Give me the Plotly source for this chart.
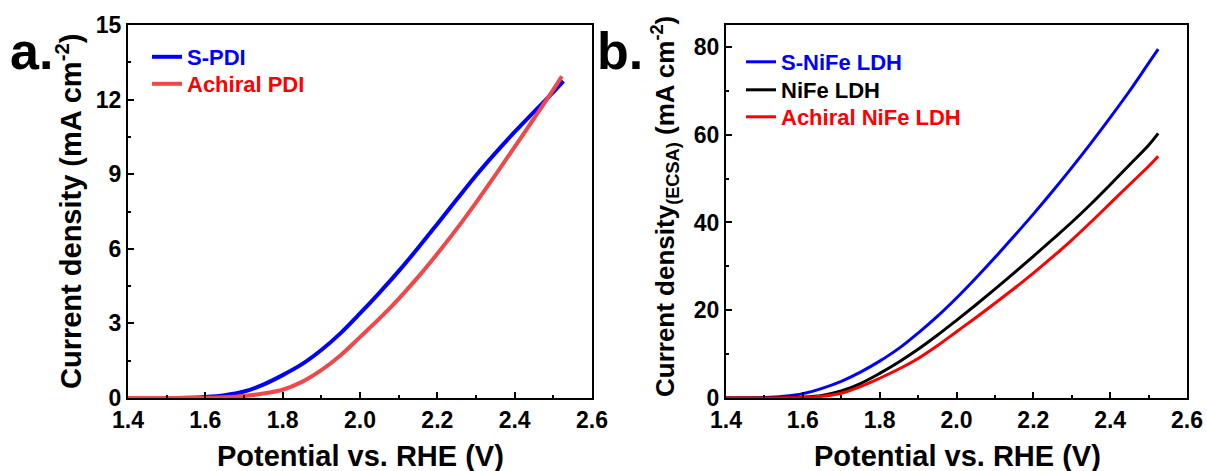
import plotly.graph_objects as go

# ---------------- data ----------------
# Panel a
pot_a = [1.40, 1.50, 1.55, 1.60, 1.65, 1.70, 1.75, 1.80, 1.85, 1.90, 1.95, 2.00, 2.05, 2.10, 2.15,
         2.20, 2.25, 2.30, 2.35, 2.40, 2.45, 2.50, 2.526]
s_pdi = [0.0, 0.0, 0.01, 0.04, 0.11, 0.26, 0.54, 0.92, 1.36, 1.93, 2.61, 3.40, 4.23, 5.10, 6.03,
         7.00, 7.98, 8.95, 9.85, 10.70, 11.51, 12.30, 12.74]
pot_a2 = [1.40, 1.50, 1.55, 1.60, 1.65, 1.70, 1.75, 1.80, 1.85, 1.90, 1.95, 2.00, 2.05, 2.10, 2.15,
          2.20, 2.25, 2.30, 2.35, 2.40, 2.45, 2.50, 2.522]
achiral_pdi = [0.0, 0.0, 0.0, 0.01, 0.03, 0.08, 0.18, 0.33, 0.65, 1.12, 1.72, 2.45, 3.19, 3.99, 4.86,
               5.80, 6.80, 7.86, 8.96, 10.10, 11.24, 12.40, 12.94]

# Panel b
pot_b = [1.40, 1.45, 1.50, 1.55, 1.60, 1.65, 1.70, 1.75, 1.80, 1.85, 1.90, 1.95, 2.00, 2.05, 2.10,
         2.15, 2.20, 2.25, 2.30, 2.35, 2.40, 2.45, 2.50, 2.525]
s_nife = [0.0, 0.0, 0.1, 0.4, 1.0, 2.2, 3.8, 5.9, 8.4, 11.3, 14.8, 18.6, 22.8, 27.3, 32.0,
          36.9, 41.9, 47.1, 52.5, 58.1, 63.9, 69.9, 76.3, 79.5]
nife = [0.0, 0.0, 0.0, 0.05, 0.2, 0.6, 1.6, 3.3, 5.6, 8.2, 11.1, 14.3, 17.7, 21.2, 24.8,
        28.5, 32.3, 36.15, 40.05, 44.2, 48.6, 53.1, 57.6, 60.3]
achiral_nife = [0.0, 0.0, 0.0, 0.03, 0.12, 0.4, 1.1, 2.6, 4.5, 6.6, 9.0, 11.9, 15.1, 18.3, 21.6,
                24.95, 28.45, 32.15, 36.0, 40.1, 44.35, 48.6, 52.8, 55.1]

x_ticks = [1.4, 1.6, 1.8, 2.0, 2.2, 2.4, 2.6]
x_tick_labels = ["1.4", "1.6", "1.8", "2.0", "2.2", "2.4", "2.6"]
ya_ticks = [0, 3, 6, 9, 12, 15]
yb_ticks = [0, 20, 40, 60, 80]

# ---------------- figure ----------------
W, H = 1207, 471
FONT = "Arial, 'Liberation Sans', sans-serif"


def fx(px):
    return px / W


def fy(py):
    return 1 - py / H


fig = go.Figure()

fig.add_trace(go.Scatter(x=pot_a, y=s_pdi, mode="lines",
                         name="<span style='color:#0000FF'>S-PDI</span>",
                         line=dict(color="#0000FF", width=4, shape="spline", smoothing=1.0),
                         xaxis="x", yaxis="y", legend="legend"))
fig.add_trace(go.Scatter(x=pot_a2, y=achiral_pdi, mode="lines",
                         name="<span style='color:#FF0000'>Achiral PDI</span>",
                         line=dict(color="#F0474A", width=4, shape="spline", smoothing=1.0),
                         xaxis="x", yaxis="y", legend="legend2"))

fig.add_trace(go.Scatter(x=pot_b, y=s_nife, mode="lines",
                         name="<span style='color:#0000FF'>S-NiFe LDH</span>",
                         line=dict(color="#0000FF", width=3, shape="spline", smoothing=1.0),
                         xaxis="x2", yaxis="y2", legend="legend3"))
fig.add_trace(go.Scatter(x=pot_b, y=nife, mode="lines",
                         name="<span style='color:#000000'>NiFe LDH</span>",
                         line=dict(color="#000000", width=3, shape="spline", smoothing=1.0),
                         xaxis="x2", yaxis="y2", legend="legend4"))
fig.add_trace(go.Scatter(x=pot_b, y=achiral_nife, mode="lines",
                         name="<span style='color:#FF0000'>Achiral NiFe LDH</span>",
                         line=dict(color="#FF0000", width=3, shape="spline", smoothing=1.0),
                         xaxis="x2", yaxis="y2", legend="legend5"))

tickfont = dict(family=FONT, size=23, color="black", weight="bold")
common_axis = dict(showline=True, linewidth=2, linecolor="black", mirror=True,
                   ticks="inside", ticklen=6, tickwidth=2, tickcolor="black",
                   showgrid=False, zeroline=False, tickfont=tickfont, automargin=False)
minor_x = dict(ticks="inside", ticklen=3, tickwidth=2, tickcolor="black", dtick=0.1, tick0=1.4)

ydom = [fy(398), fy(25)]


def leg(xpx, ypx):
    return dict(x=fx(xpx), y=fy(ypx), xanchor="left", yanchor="top",
                bgcolor="rgba(0,0,0,0)", borderwidth=0,
                font=dict(family=FONT, size=22, weight="bold"))


fig.update_layout(
    width=W, height=H,
    margin=dict(l=0, r=0, t=0, b=0, pad=0, autoexpand=False),
    paper_bgcolor="white", plot_bgcolor="white",
    font=dict(family=FONT, size=22, color="black"),
    xaxis=dict(domain=[fx(128), fx(592)], range=[1.4, 2.6], tickvals=x_ticks, ticktext=x_tick_labels,
               minor=minor_x, anchor="y", **common_axis),
    yaxis=dict(domain=ydom, range=[0, 15], tickvals=ya_ticks,
               minor=dict(ticks="inside", ticklen=3, tickwidth=2, tickcolor="black", dtick=1.5, tick0=0),
               anchor="x", **common_axis),
    xaxis2=dict(domain=[fx(726), fx(1187)], range=[1.4, 2.6], tickvals=x_ticks, ticktext=x_tick_labels,
                minor=minor_x, anchor="y2", **common_axis),
    yaxis2=dict(domain=ydom, range=[0, 85], tickvals=yb_ticks,
                minor=dict(ticks="inside", ticklen=3, tickwidth=2, tickcolor="black", dtick=10, tick0=0),
                anchor="x2", **common_axis),
    legend=leg(147, 36),
    legend2=leg(147, 63),
    legend3=leg(741, 41),
    legend4=leg(741, 69),
    legend5=leg(741, 96),
    showlegend=True,
)

ann_font = dict(family=FONT, size=29, color="black", weight="bold")
fig.add_annotation(text="Potential vs. RHE (V)", x=fx(360), y=fy(456), xref="paper", yref="paper",
                   xanchor="center", yanchor="middle", showarrow=False, font=ann_font)
fig.add_annotation(text="Potential vs. RHE (V)", x=fx(957), y=fy(456), xref="paper", yref="paper",
                   xanchor="center", yanchor="middle", showarrow=False, font=ann_font)
fig.add_annotation(text="Current density (mA cm<sup>-2</sup>)", x=fx(69), y=fy(212), xref="paper", yref="paper",
                   xanchor="center", yanchor="middle", showarrow=False, textangle=-90, font=ann_font)
fig.add_annotation(text="Current density<sub>(ECSA)</sub> (mA cm<sup>-2</sup>)", x=fx(665), y=fy(207),
                   xref="paper", yref="paper", xanchor="center", yanchor="middle", showarrow=False,
                   textangle=-90, font=dict(family=FONT, size=26, color="black", weight="bold"))
fig.add_annotation(text="a.", x=fx(8), y=fy(51), xref="paper", yref="paper",
                   xanchor="left", yanchor="middle", showarrow=False,
                   font=dict(family=FONT, size=52, color="black", weight="bold"))
fig.add_annotation(text="b.", x=fx(595), y=fy(51), xref="paper", yref="paper",
                   xanchor="left", yanchor="middle", showarrow=False,
                   font=dict(family=FONT, size=52, color="black", weight="bold"))

fig.write_html("out.html")
